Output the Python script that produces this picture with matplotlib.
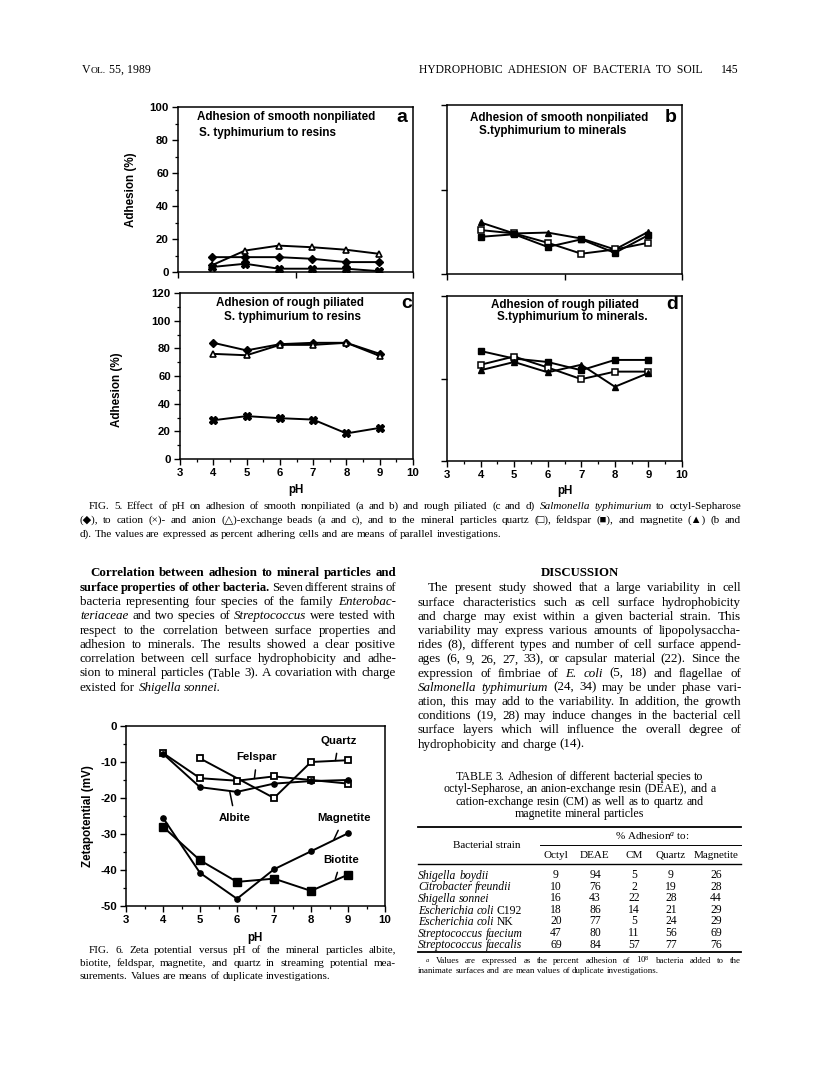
import matplotlib
matplotlib.use('Agg')
import matplotlib.pyplot as plt
from matplotlib.ticker import MultipleLocator, FixedLocator, NullFormatter
from matplotlib.lines import Line2D

W, H = 816, 1075
SERIF = ['Liberation Serif', 'DejaVu Serif']
SANS = ['Liberation Sans', 'DejaVu Sans']
plt.rcParams['mathtext.fontset'] = 'custom'
plt.rcParams['mathtext.rm'] = 'Liberation Serif'
plt.rcParams['mathtext.it'] = 'Liberation Serif:italic'
plt.rcParams['axes.unicode_minus'] = False

# ---- data ----
ph = [4, 5, 6, 7, 8, 9]
# Fig 5a  smooth nonpiliated -> resins
a_octyl = [9, 9, 9, 8, 6, 6]
a_cation = [3, 5, 2, 2, 2, 0.5]
a_anion = [4, 13, 16, 15, 13.5, 11]
# Fig 5b  smooth nonpiliated -> minerals
b_quartz = [26, 24, 18.5, 12, 14.5, 18.5]
b_feldspar = [22, 23.5, 16, 20.5, 12.5, 23]
b_magnetite = [30.5, 24, 24.5, 21, 14.5, 25]
# Fig 5c  rough piliated -> resins
c_octyl = [84, 78.5, 83, 84, 84, 76]
c_cation = [28, 31, 29.5, 28.5, 18.5, 22.5]
c_anion = [76, 75, 82.5, 82.5, 84, 74.5]
# Fig 5d  rough piliated -> minerals
d_quartz = [70, 76, 68, 59.5, 65, 65]
d_feldspar = [80, 74.5, 72, 66, 73.5, 73.5]
d_magnetite = [66, 72, 64.5, 70, 54, 64]
# Fig 6  zeta potential (mV)
ph_quartz = [5, 7, 8, 9]
z_quartz = [-9, -20, -10, -9.5]
z_felspar = [-7.5, -14.5, -15.2, -14, -15, -16]
z_albite = [-7.7, -17, -18.3, -16, -15.3, -15]
z_magnetite = [-25.5, -40.8, -48, -39.8, -34.8, -29.8]
z_biotite = [-28, -37.3, -43.3, -42.4, -45.8, -41.3]

# Table 3
strains = ["_Shigella _boydii", "_Citrobacter _freundii", "_Shigella _sonnei",
           "_Escherichia _coli C192", "_Escherichia _coli NK",
           "_Streptococcus _faecium", "_Streptococcus _faecalis"]
tab_cols = ["Octyl", "DEAE", "CM", "Quartz", "Magnetite"]
t_octyl = [9, 10, 16, 18, 20, 47, 69]
t_deae = [94, 76, 43, 86, 77, 80, 84]
t_cm = [5, 2, 22, 14, 5, 11, 57]
t_quartz = [9, 19, 28, 21, 24, 56, 77]
t_magnetite = [26, 28, 44, 29, 29, 69, 76]

left_col = [
    "*Correlation *between *adhesion *to *mineral *particles *and",
    "*surface *properties *of *other *bacteria. Seven different strains of",
    "bacteria representing four species of the family _Enterobac-",
    "_teriaceae and two species of _Streptococcus were tested with",
    "respect to the correlation between surface properties and",
    "adhesion to minerals. The results showed a clear positive",
    "correlation between cell surface hydrophobicity and adhe-",
    "sion to mineral particles (Table 3). A covariation with charge",
    "existed for _Shigella _sonnei.",
]
right_col = [
    "The present study showed that a large variability in cell",
    "surface characteristics such as cell surface hydrophobicity",
    "and charge may exist within a given bacterial strain. This",
    "variability may express various amounts of lipopolysaccha-",
    "rides (8), different types and number of cell surface append-",
    "ages (6, 9, 26, 27, 33), or capsular material (22). Since the",
    "expression of fimbriae of _E. _coli (5, 18) and flagellae of",
    "_Salmonella _typhimurium (24, 34) may be under phase vari-",
    "ation, this may add to the variability. In addition, the growth",
    "conditions (19, 28) may induce changes in the bacterial cell",
    "surface layers which will influence the overall degree of",
    "hydrophobicity and charge (14).",
]
fig5_caption = [
    "FIG. 5. Effect of pH on adhesion of smooth nonpiliated (a and b) and rough piliated (c and d) _Salmonella _typhimurium to octyl-Sepharose",
    "(\u25c6), to cation (\u00d7)- and anion (\u25b3)-exchange beads (a and c), and to the mineral particles quartz (\u25a1), feldspar (\u25a0), and magnetite (\u25b2) (b and",
    "d). The values are expressed as percent adhering cells and are means of parallel investigations.",
]
fig6_caption = [
    "FIG. 6. Zeta potential versus pH of the mineral particles albite,",
    "biotite, feldspar, magnetite, and quartz in streaming potential mea-",
    "surements. Values are means of duplicate investigations.",
]
table_title = [
    "TABLE 3. Adhesion of different bacterial species to",
    "octyl-Sepharose, an anion-exchange resin (DEAE), and a",
    "cation-exchange resin (CM) as well as to quartz and",
    "magnetite mineral particles",
]
footnote = [
    "$^a$ Values are expressed as the percent adhesion of 10$^8$ bacteria added to the",
    "inanimate surfaces and are mean values of duplicate investigations.",
]

fig = plt.figure(figsize=(W / 100, H / 100), dpi=100)
fig.patch.set_facecolor('white')
renderer = fig.canvas.get_renderer()


def put(x, y, s, **kw):
    return fig.text(x / W, 1 - y / H, s, **kw)


def hline(x0, x1, y, lw=0.8):
    fig.add_artist(Line2D([x0 / W, x1 / W], [1 - y / H] * 2, transform=fig.transFigure,
                          color='k', lw=lw))


def words(x0, x1, yc, line, size, justify=True, ha='left'):
    # set a line word by word: '_' prefix = italic, '*' prefix = bold
    fs = size * 100 / 72
    yb = yc + 0.33 * fs
    texts = []
    for w in line.split(' '):
        st, wt = 'normal', 'normal'
        while w[:1] in ('_', '*'):
            if w[0] == '_':
                st = 'italic'
            else:
                wt = 'bold'
            w = w[1:]
        texts.append(put(0, yb, w, fontsize=size, family=SERIF, style=st,
                         weight=wt, va='baseline'))
    widths = [t.get_window_extent(renderer).width for t in texts]
    n = len(texts)
    if justify and n > 1:
        natural = sum(widths) + 0.2 * fs * (n - 1)
        if natural > x1 - x0:
            k = (x1 - x0) / natural
            for t in texts:
                t.set_fontsize(size * k)
            widths = [t.get_window_extent(renderer).width for t in texts]
        gap = (x1 - x0 - sum(widths)) / (n - 1)
    else:
        gap = 0.25 * fs
    total = sum(widths) + gap * (n - 1)
    x = x0 if ha == 'left' else (x0 + x1 - total) / 2
    for t, w in zip(texts, widths):
        t.set_x(x / W)
        x += w + gap


def add_ax(l, t, r, b):
    return fig.add_axes([l / W, 1 - b / H, (r - l) / W, (b - t) / H])


def style(ax, ylim, ymajor, xmajor, ylab=True, xlab=True, yminor=None, xminor=None):
    ax.set_xlim(3, 10)
    ax.set_ylim(*ylim)
    for s in ax.spines.values():
        s.set_linewidth(1.1)
    ax.xaxis.set_major_locator(FixedLocator(xmajor))
    ax.yaxis.set_major_locator(FixedLocator(ymajor))
    if xminor:
        ax.xaxis.set_minor_locator(MultipleLocator(xminor))
    if yminor:
        ax.yaxis.set_minor_locator(MultipleLocator(yminor))
    ax.tick_params(which='major', direction='out', length=4, width=1.0,
                   labelsize=8.2, pad=2.5)
    ax.tick_params(which='minor', direction='out', length=2.5, width=0.9)
    for lab in ax.get_xticklabels() + ax.get_yticklabels():
        lab.set_family(SANS)
        lab.set_fontweight('bold')
    if not ylab:
        ax.yaxis.set_major_formatter(NullFormatter())
    if not xlab:
        ax.xaxis.set_major_formatter(NullFormatter())


LW = 1.4
steps10 = [3, 4, 5, 6, 7, 8, 9, 10]

# ---- Fig 5a ----
ax = add_ax(178, 107, 413, 272)
ax.plot(ph, a_octyl, '-D', color='k', lw=LW, ms=4)
ax.plot(ph, a_anion, '-^', color='k', lw=LW, ms=5, mfc='white', mew=1.2)
ax.plot(ph, a_cation, '-X', color='k', lw=LW, ms=5.5)
style(ax, (0, 100), range(0, 101, 20), [3, 6.5, 10], xlab=False, yminor=10)

# ---- Fig 5b ----
ax = add_ax(447, 105, 682, 274)
ax.plot(ph, b_magnetite, '-^', color='k', lw=LW, ms=5)
ax.plot(ph, b_quartz, '-s', color='k', lw=LW, ms=4.5, mfc='white', mew=1.1)
ax.plot(ph, b_feldspar, '-s', color='k', lw=LW, ms=4.5)
style(ax, (0, 100), [0, 50, 100], [3, 6.5, 10], ylab=False, xlab=False)

# ---- Fig 5c ----
ax = add_ax(180, 293, 413, 459)
ax.plot(ph, c_octyl, '-D', color='k', lw=LW, ms=4)
ax.plot(ph, c_anion, '-^', color='k', lw=LW, ms=5, mfc='white', mew=1.2)
ax.plot(ph, c_cation, '-X', color='k', lw=LW, ms=5.5)
style(ax, (0, 120), range(0, 121, 20), steps10, yminor=10, xminor=0.5)

# ---- Fig 5d ----
ax = add_ax(447, 296, 682, 461)
ax.plot(ph, d_feldspar, '-s', color='k', lw=LW, ms=4.5)
ax.plot(ph, d_quartz, '-s', color='k', lw=LW, ms=4.5, mfc='white', mew=1.1)
ax.plot(ph, d_magnetite, '-^', color='k', lw=LW, ms=5)
style(ax, (0, 120), [0, 60, 120], steps10, ylab=False, xminor=0.5)

sb = dict(family=SANS, weight='bold', fontsize=8.4, va='center')
put(197, 117, "Adhesion of smooth nonpiliated", ha='left', **sb)
put(199, 133, "S. typhimurium to resins", ha='left', **sb)
put(470, 118, "Adhesion of smooth nonpiliated", ha='left', **sb)
put(479, 131, "S.typhimurium to minerals", ha='left', **sb)
put(290, 303, "Adhesion of rough piliated", ha='center', **sb)
put(293, 317, "S. typhimurium to resins", ha='center', **sb)
put(565, 305, "Adhesion of rough piliated", ha='center', **sb)
put(572, 317, "S.typhimurium to minerals.", ha='center', **sb)
lb = dict(family=SANS, weight='bold', fontsize=14, va='center', ha='center')
put(402, 117, "a", **lb)
put(671, 117, "b", **lb)
put(407, 303, "c", **lb)
put(672, 305, "d", **lb)
put(131, 190, "Adhesion (%)", rotation=90, ha='center', **sb)
put(117, 390, "Adhesion (%)", rotation=90, ha='center', **sb)
put(296, 490, "pH", ha='center', **sb)
put(565, 491, "pH", ha='center', **sb)

# ---- Fig 6 ----
ax = add_ax(126, 726, 385, 906)
ax.plot(ph_quartz, z_quartz, '-s', color='k', lw=LW, ms=4.5, mfc='white', mew=1.3)
ax.plot(ph, z_felspar, '-s', color='k', lw=LW, ms=4.5, mfc='white', mew=1.3)
ax.plot(ph, z_albite, '-o', color='k', lw=LW, ms=3.8)
ax.plot(ph, z_magnetite, '-o', color='k', lw=LW, ms=3.8)
ax.plot(ph, z_biotite, '-s', color='k', lw=LW, ms=5.2)
style(ax, (-50, 0), range(-50, 1, 10), steps10, yminor=5, xminor=0.5)
ann = dict(family=SANS, weight='bold', fontsize=8.2, ha='center', va='center',
           arrowprops=dict(arrowstyle='-', lw=1.1, color='k', shrinkA=3.5, shrinkB=0))
ax.annotate("Quartz", xy=(8.66, -9.6), xytext=(8.75, -4.1), **ann)
ax.annotate("Felspar", xy=(6.47, -14.6), xytext=(6.54, -8.7), **ann)
ax.annotate("Albite", xy=(5.8, -18.0), xytext=(5.95, -25.6), **ann)
ax.annotate("Magnetite", xy=(8.62, -31.5), xytext=(8.89, -25.6), **ann)
ax.annotate("Biotite", xy=(8.66, -42.4), xytext=(8.82, -37.2), **ann)
put(88, 816, "Zetapotential (mV)", rotation=90, ha='center', **sb)
put(255, 938, "pH", ha='center', **sb)

# ---- running head ----
hd = dict(family=SERIF, va='baseline')
t = put(82, 73, "V", fontsize=8.6, **hd)
x = 82 + t.get_window_extent(renderer).width
t = put(x, 73, "OL.", fontsize=6.8, **hd)
x += t.get_window_extent(renderer).width
put(x, 73, " 55, 1989", fontsize=8.6, **hd)
put(703, 73, "HYDROPHOBIC  ADHESION  OF  BACTERIA  TO  SOIL", fontsize=8.4,
    ha='right', **hd)
put(739, 73, "145", fontsize=8.4, ha='right', **hd)

# ---- captions and text columns ----
LX0, LX1, RX0, RX1 = 80, 396, 418, 741
for i, line in enumerate(fig5_caption):
    words(LX0 + (9 if i == 0 else 0), RX1, 505 + 14 * i, line, 8.0,
          justify=i < len(fig5_caption) - 1)

for i, line in enumerate(left_col):
    words(LX0 + (10 if i == 0 else 0), LX1, 572 + 14.3 * i, line, 9.4,
          justify=i < len(left_col) - 1)

put((RX0 + RX1) / 2, 573, "DISCUSSION", family=SERIF, weight='bold', fontsize=9.2,
    ha='center', va='center')
for i, line in enumerate(right_col):
    words(RX0 + (10 if i == 0 else 0), RX1, 587 + 14.2 * i, line, 9.4,
          justify=i < len(right_col) - 1)

for i, line in enumerate(fig6_caption):
    words(LX0 + (9 if i == 0 else 0), LX1, 949 + 13 * i, line, 8.0,
          justify=i < len(fig6_caption) - 1)

# ---- Table 3 ----
for i, line in enumerate(table_title):
    words(RX0, RX1, 776 + 12.5 * i, line, 8.6, justify=False, ha='center')
hline(RX0, RX1, 827, 1.3)
col_x = [556, 595, 634, 671, 716]
put(652, 836, "% Adhesion$^a$ to:", family=SERIF, fontsize=8.0, ha='center', va='center')
put(487, 845, "Bacterial strain", family=SERIF, fontsize=8.0, ha='center', va='center')
hline(540, RX1, 845, 0.7)
for cx, name in zip(col_x, tab_cols):
    put(cx, 855, name, family=SERIF, fontsize=8.0, ha='center', va='center')
hline(RX0, RX1, 864, 1.0)
for r, name in enumerate(strains):
    y = 875 + 11.6 * r
    words(RX0, RX0 + 120, y, name, 8.4, justify=False)
    for cx, col in zip(col_x, [t_octyl, t_deae, t_cm, t_quartz, t_magnetite]):
        put(cx, y, str(col[r]), family=SERIF, fontsize=8.4, ha='center', va='center')
hline(RX0, RX1, 952, 1.3)
for i, line in enumerate(footnote):
    words(RX0 + (7 if i == 0 else 0), RX1, 960 + 10.5 * i, line, 6.4,
          justify=i < len(footnote) - 1)

fig.savefig('out.png', dpi=100, facecolor='white')
